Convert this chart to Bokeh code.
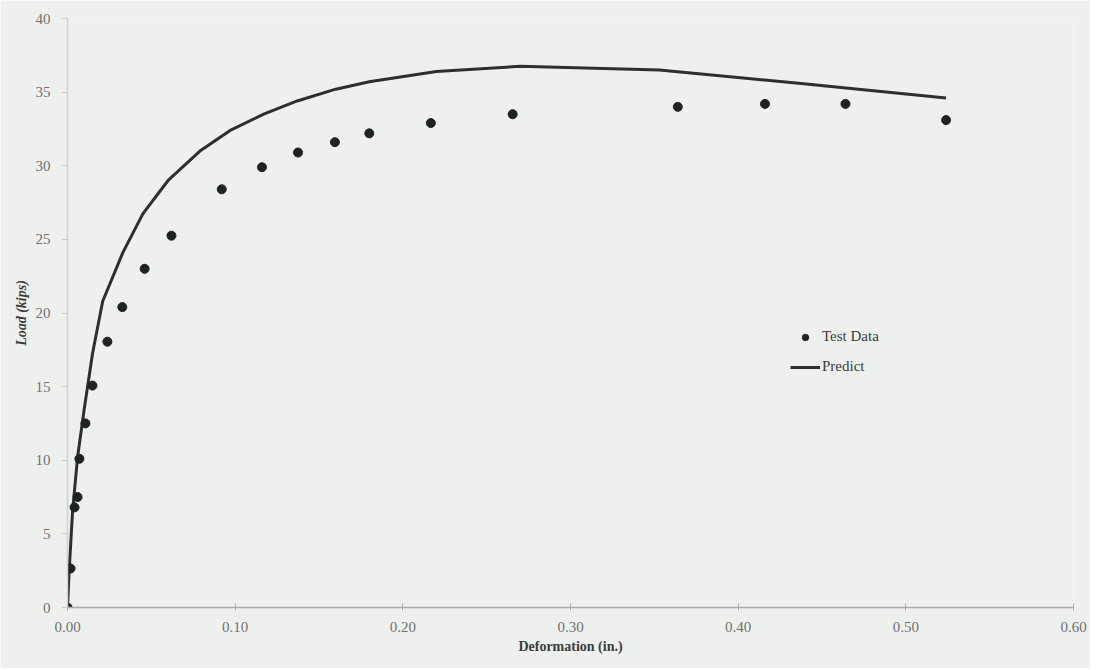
from bokeh.plotting import figure
from bokeh.models import Range1d, Legend, LegendItem
from bokeh.embed import file_html
from bokeh.resources import INLINE

# Test data (deformation in., load kips)
test_x = [0.0, 0.0018, 0.0042, 0.0060, 0.0071, 0.0107, 0.0149, 0.0238, 0.0327,
          0.046, 0.062, 0.092, 0.116, 0.1375, 0.1595, 0.180, 0.2167, 0.2655,
          0.364, 0.416, 0.464, 0.524]
test_y = [0.0, 2.65, 6.8, 7.5, 10.1, 12.5, 15.07, 18.05, 20.4,
          23.0, 25.25, 28.4, 29.9, 30.9, 31.6, 32.2, 32.9, 33.5,
          34.0, 34.2, 34.2, 33.1]

# Predicted curve
pred_x = [0.0, 0.001, 0.003, 0.006, 0.010, 0.015, 0.021, 0.033, 0.045, 0.060,
          0.079, 0.097, 0.117, 0.137, 0.160, 0.180, 0.220, 0.270, 0.353, 0.436, 0.524]
pred_y = [0.0, 2.5, 6.5, 10.2, 13.5, 17.3, 20.8, 24.1, 26.75, 29.0,
          31.0, 32.4, 33.5, 34.4, 35.2, 35.7, 36.4, 36.75, 36.5, 35.6, 34.6]

x_ticks = [0.0, 0.1, 0.2, 0.3, 0.4, 0.5, 0.6]
x_tick_labels = ["0.00", "0.10", "0.20", "0.30", "0.40", "0.50", "0.60"]
y_ticks = [0, 5, 10, 15, 20, 25, 30, 35, 40]

BG = "#eef0ee"
FONT = "Liberation Serif"

p = figure(width=1090, height=668, output_backend="svg", toolbar_location=None,
           x_range=Range1d(0, 0.6), y_range=Range1d(0, 40),
           min_border_left=67, min_border_right=17, min_border_top=18, min_border_bottom=61,
           background_fill_color=BG, border_fill_color=BG, outline_line_color=None)

p.xgrid.grid_line_color = None
p.ygrid.grid_line_color = None

p.xaxis.ticker = x_ticks
p.xaxis.major_label_overrides = {t: l for t, l in zip(x_ticks, x_tick_labels)}
p.yaxis.ticker = y_ticks

for ax in (p.xaxis[0], p.yaxis[0]):
    ax.major_label_text_font = FONT
    ax.major_label_text_font_size = "15px"
    ax.major_label_text_color = "#6f7270"
    ax.minor_tick_line_color = None
    ax.axis_label_text_font = FONT
    ax.axis_label_text_color = "#3a3d3c"

p.xaxis.axis_line_color = "#a9acaa"
p.xaxis.axis_line_width = 1.5
p.xaxis.major_tick_line_color = "#a9acaa"
p.xaxis.major_tick_in = 4
p.xaxis.major_tick_out = 3
p.xaxis.major_label_standoff = 11
p.xaxis.axis_label = "Deformation (in.)"
p.xaxis.axis_label_text_font_style = "bold"
p.xaxis.axis_label_text_font_size = "14px"
p.xaxis.axis_label_standoff = 4

p.yaxis.axis_line_color = "#d0d3d1"
p.yaxis.axis_line_width = 1.5
p.yaxis.major_tick_line_color = "#c8cbc9"
p.yaxis.major_tick_in = 0
p.yaxis.major_tick_out = 6
p.yaxis.major_label_standoff = 11
p.yaxis.axis_label = "Load (kips)"
p.yaxis.axis_label_text_font_style = "bold italic"
p.yaxis.axis_label_text_font_size = "14px"
p.yaxis.axis_label_standoff = 4

line_r = p.line(pred_x, pred_y, line_color="#2b302f", line_width=3)
pts_r = p.scatter(test_x, test_y, marker="circle", size=9,
                  fill_color="#1e2221", line_color="#1e2221")

legend = Legend(items=[LegendItem(label="Test Data", renderers=[pts_r]),
                       LegendItem(label="Predict", renderers=[line_r])],
                location=(723, 232), background_fill_alpha=0, border_line_color=None,
                label_text_font=FONT, label_text_font_size="15px", label_text_color="#3a3d3c",
                glyph_width=30, glyph_height=16, label_standoff=2, spacing=13,
                padding=0, margin=0)
p.add_layout(legend)

open("out.html", "w").write(file_html(p, INLINE))
